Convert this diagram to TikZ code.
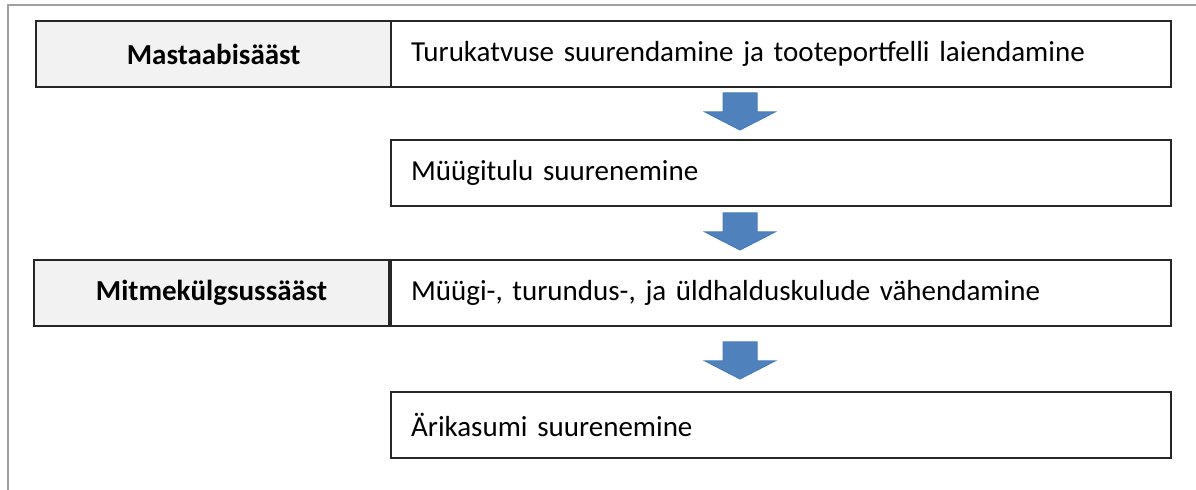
\documentclass[tikz,border=0pt]{standalone}
\usepackage{fontspec}
\setmainfont{Carlito}
\usepackage{xcolor}
\definecolor{frame}{HTML}{A0A0A0}
\definecolor{edge}{HTML}{262626}
\definecolor{pale}{HTML}{F2F2F2}
\definecolor{arrowblue}{HTML}{4F81BD}
\definecolor{arrowedge}{HTML}{4A7DB8}
\usetikzlibrary{positioning}
\tikzset{
  lblbox/.style ={draw=edge,fill=pale,line width=1.1pt,anchor=north west,
                  minimum width=177.5pt,minimum height=33pt,
                  font=\fontsize{14.5}{17}\selectfont\bfseries,align=center},
  txtbox/.style ={draw=edge,fill=white,line width=1.1pt,anchor=north west,
                  minimum width=390pt,minimum height=33pt,inner xsep=10pt,
                  text width=370pt,align=left,
                  font=\fontsize{14.5}{17}\selectfont},
  blockarrow/.style={fill=arrowblue,draw=arrowedge,line width=0.5pt},
}
\begin{document}
\begin{tikzpicture}[x=0.5pt,y=-0.5pt]
\useasboundingbox (0,0) rectangle (1196,490);
% outer frame, only top and left edges show
\draw[frame,line width=0.8pt] (1196,5) -- (8,5) -- (8,490);
%======================= rows ===================================
\node[lblbox] (l1) at (35,20) {Mastaabisääst};
\node[txtbox] (t1) at (390,20) {Turukatvuse suurendamine ja tooteportfelli laiendamine};
\node[txtbox] (t2) at (390,139) {Müügitulu suurenemine};
\node[lblbox] (l3) at (33,259) {Mitmekülgsussääst};
\node[txtbox] (t3) at (390,259) {Müügi-, turundus-, ja üldhalduskulude vähendamine};
\node[txtbox] (t4) at (390,391) {Ärikasumi suurenemine};
%======================= block arrows ===========================
\foreach \y in {93,213,342}
  \draw[blockarrow] (723,\y) -- (757,\y) -- (757,\y+19) -- (775,\y+19)
    -- (740,\y+37) -- (705,\y+19) -- (723,\y+19) -- cycle;
\end{tikzpicture}
\end{document}
